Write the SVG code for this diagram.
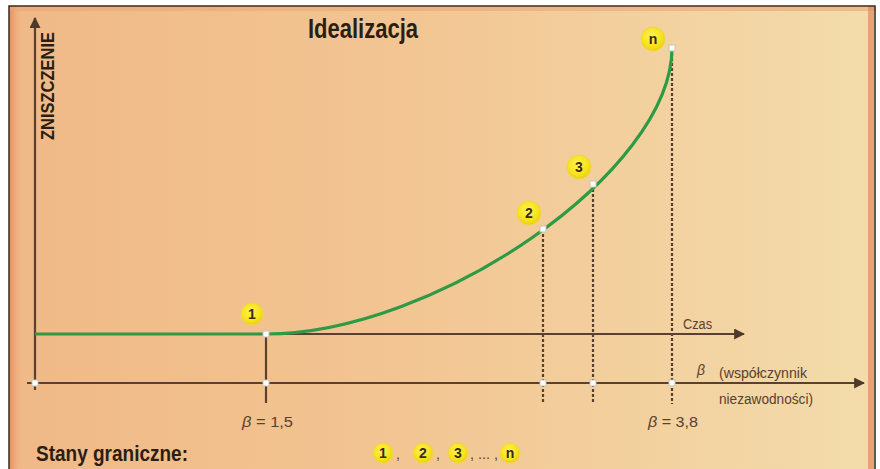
<svg xmlns="http://www.w3.org/2000/svg" width="880" height="469" viewBox="0 0 880 469">
<defs>
<linearGradient id="bg" x1="0" y1="0" x2="1" y2="0">
<stop offset="0" stop-color="#f0b987"/>
<stop offset="0.45" stop-color="#f2c592"/>
<stop offset="1" stop-color="#f3dcab"/>
</linearGradient>
<linearGradient id="lb" x1="0" y1="0" x2="1" y2="0">
<stop offset="0" stop-color="#e8895a"/>
<stop offset="1" stop-color="#f0b987" stop-opacity="0"/>
</linearGradient>
<radialGradient id="yc" cx="0.45" cy="0.4" r="0.6">
<stop offset="0" stop-color="#fff35a"/>
<stop offset="0.7" stop-color="#f7e21a"/>
<stop offset="1" stop-color="#e9cf10"/>
</radialGradient>
<marker id="arr" viewBox="0 0 10 10" refX="9" refY="5" markerWidth="5" markerHeight="5" orient="auto" markerUnits="strokeWidth">
<path d="M0,0 L10,5 L0,10 z" fill="#4e3a2c"/>
</marker>
</defs>
<style>
.ax{stroke:#5a412f;stroke-width:2.2;fill:none}
.dash{stroke:#5a412f;stroke-width:2.2;stroke-dasharray:3 2;fill:none}
.sq{fill:#ffffff;stroke:#c9c2b8;stroke-width:1}
.yc{fill:url(#yc);stroke:#f0d64a;stroke-width:1}
.yt{font-family:"Liberation Sans",sans-serif;font-weight:bold;font-size:14px;fill:#3a2a1a;text-anchor:middle}
.lbl{font-family:"Liberation Sans",sans-serif;font-size:14px;fill:#5a4030}
.bold{font-family:"Liberation Sans",sans-serif;font-weight:bold;fill:#2a1e14}
</style>
<rect x="0" y="0" width="880" height="469" fill="#ffffff"/>
<rect x="9" y="6" width="867" height="470" fill="url(#bg)"/>
<rect x="9" y="6" width="14" height="470" fill="url(#lb)"/>
<rect x="9" y="7" width="867" height="4" fill="#eba577" opacity="0.6"/>
<rect x="868" y="6" width="6" height="470" fill="#e08a5e" opacity="0.7"/>
<rect x="9" y="6" width="866" height="470" fill="none" stroke="#3a2a20" stroke-width="1.5"/>

<g id="title"><text class="bold" x="308" y="38" font-size="27" textLength="110" lengthAdjust="spacingAndGlyphs">Idealizacja</text></g>

<g id="connectors">
<line class="ax" x1="35" y1="390" x2="35" y2="18" marker-end="url(#arr)"/>
<line class="ax" x1="35" y1="334" x2="744" y2="334" marker-end="url(#arr)"/>
<line class="ax" x1="27" y1="383" x2="864" y2="383" marker-end="url(#arr)"/>
<line class="ax" x1="266" y1="334" x2="266" y2="403"/>
<line class="dash" x1="543" y1="229" x2="543" y2="404"/>
<line class="dash" x1="593" y1="184" x2="593" y2="404"/>
<line class="dash" x1="672" y1="48" x2="672" y2="404"/>
<path d="M35,334 L266,334 C435,334 672,172 672,48" fill="none" stroke="#2e9a44" stroke-width="3.2"/>
</g>

<g id="yaxis-label"><text class="bold" transform="translate(54,140) rotate(-90)" font-size="19" textLength="108" lengthAdjust="spacingAndGlyphs">ZNISZCZENIE</text></g>

<g id="squares">
<rect class="sq" x="32" y="380" width="6" height="6"/>
<rect class="sq" x="263" y="331" width="6" height="6"/>
<rect class="sq" x="263" y="380" width="6" height="6"/>
<rect class="sq" x="540" y="226" width="6" height="6"/>
<rect class="sq" x="590" y="181" width="6" height="6"/>
<rect class="sq" x="669" y="45" width="6" height="6"/>
<rect class="sq" x="540" y="380" width="6" height="6"/>
<rect class="sq" x="590" y="380" width="6" height="6"/>
<rect class="sq" x="669" y="380" width="6" height="6"/>
</g>

<g id="state-1"><circle class="yc" cx="252" cy="314" r="11"/><text class="yt" x="252" y="319">1</text></g>
<g id="state-2"><circle class="yc" cx="529" cy="213" r="12"/><text class="yt" x="529" y="218">2</text></g>
<g id="state-3"><circle class="yc" cx="579" cy="167" r="12"/><text class="yt" x="579" y="172">3</text></g>
<g id="state-n"><circle class="yc" cx="653" cy="39" r="12"/><text class="yt" x="653" y="44">n</text></g>

<g id="axis-labels">
<text class="lbl" x="683" y="329" font-size="15" textLength="29" lengthAdjust="spacingAndGlyphs">Czas</text>
<text class="lbl" x="697" y="375" font-style="italic" font-size="15">β</text>
<text class="lbl" x="719" y="378" font-size="15" textLength="88" lengthAdjust="spacingAndGlyphs">(współczynnik</text>
<text class="lbl" x="719" y="404" font-size="15" textLength="94" lengthAdjust="spacingAndGlyphs">niezawodności)</text>
<text class="lbl" x="242" y="427" font-size="16" textLength="51" lengthAdjust="spacingAndGlyphs"><tspan font-style="italic">β</tspan> = 1,5</text>
<text class="lbl" x="648" y="427" font-size="16" textLength="50" lengthAdjust="spacingAndGlyphs"><tspan font-style="italic">β</tspan> = 3,8</text>
</g>

<g id="legend">
<text class="bold" x="36" y="461" font-size="22" textLength="152" lengthAdjust="spacingAndGlyphs">Stany graniczne:</text>
<circle class="yc" cx="383" cy="453" r="10"/><text class="yt" x="383" y="458">1</text>
<text class="lbl" x="396" y="459" font-size="8">,</text>
<circle class="yc" cx="423" cy="453" r="10"/><text class="yt" x="423" y="458">2</text>
<text class="lbl" x="436" y="459" font-size="8">,</text>
<circle class="yc" cx="458" cy="453" r="10"/><text class="yt" x="458" y="458">3</text>
<text class="lbl" x="470" y="459" font-size="8" textLength="28" lengthAdjust="spacingAndGlyphs">, ... ,</text>
<circle class="yc" cx="510" cy="453" r="10"/><text class="yt" x="510" y="458">n</text>
</g>
</svg>
